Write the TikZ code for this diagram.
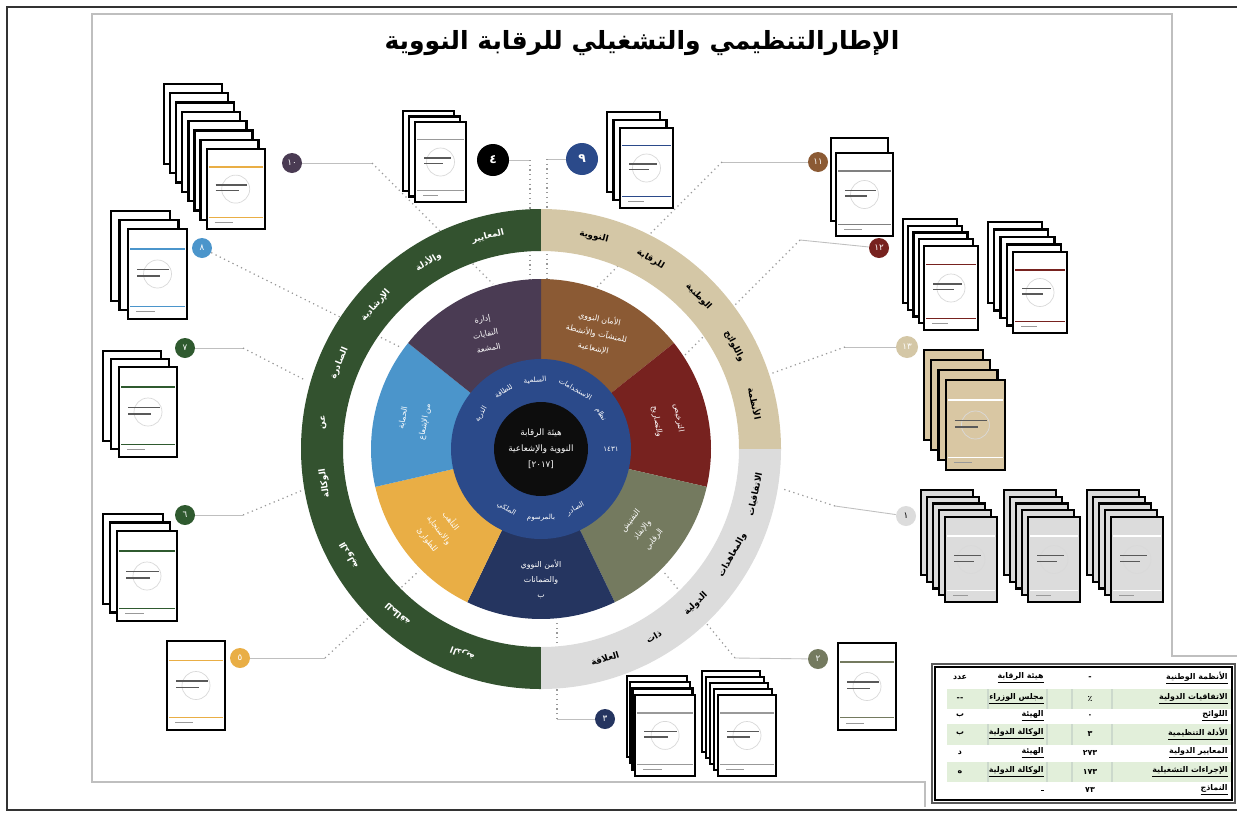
\documentclass[tikz,border=0pt]{standalone}
\usepackage{fontspec}
\usepackage{graphicx}
\usepackage{xcolor}
\usepackage{tikz}
\usetikzlibrary{calc}
\TeXXeTstate=1
\newfontfamily\arab[Script=Arabic]{DejaVu Sans}
\newcommand{\artxt}[1]{\beginR #1\endR}

\definecolor{segpurple}{HTML}{4A3B53}
\definecolor{segbrown}{HTML}{8B5A34}
\definecolor{segred}{HTML}{77221F}
\definecolor{segolive}{HTML}{747A5F}
\definecolor{segnavy}{HTML}{253560}
\definecolor{segyellow}{HTML}{E9AE45}
\definecolor{segblue}{HTML}{4B95CB}
\definecolor{innerblue}{HTML}{2B4A8A}
\definecolor{ringgreen}{HTML}{33522F}
\definecolor{ringtan}{HTML}{D4C7A6}
\definecolor{ringgray}{HTML}{DCDCDC}
\definecolor{badgegreen}{HTML}{2F5A2F}
\definecolor{doctan}{HTML}{D9C7A3}
\definecolor{tablegreen}{HTML}{E2EFDA}

\tikzset{
  docbox/.style={draw=black,line width=1.3pt},
  badge/.style={circle,inner sep=0pt,minimum size=0.4cm,fill=#1,text=white,
    font=\arab\fontsize{5}{5}\selectfont},
  bigbadge/.style={badge=#1,minimum size=0.64cm,font=\arab\bfseries\fontsize{7}{7}\selectfont},
  link/.style={draw=black!25,line width=0.5pt},
  dotlink/.style={draw=black!40,line width=0.7pt,dotted},
  segtxt/.style={text=white,align=center,inner sep=0pt,font=\arab\fontsize{4.5}{8.5}\selectfont},
  ringtxt/.style={text=black,inner sep=0pt,font=\arab\bfseries\fontsize{5}{5}\selectfont},
  bluetxt/.style={text=white,inner sep=0pt,font=\arab\fontsize{4}{5}\selectfont},
  tabtxt/.style={inner sep=0pt,font=\arab\bfseries\fontsize{4.5}{5}\selectfont},
  tabline/.style={draw=green!25!black!20,line width=0.6pt}
}

% back corner x, y; count; step x, y; width, height; fill; accent
\newcommand{\docstack}[9]{%
  \foreach \k in {1,...,#3}{
    \filldraw[docbox,fill=#8] ({#1+(\k-1)*#4},{#2+(\k-1)*#5}) rectangle ++(#6,#7);
  }
  \begin{scope}[shift={({#1+(#3-1)*#4},{#2+(#3-1)*#5})}]
    \draw[#9,line width=1pt] (2,{0.22*#7}) -- ({#6-2},{0.22*#7});
    \draw[#9,line width=0.6pt] (2,{0.86*#7}) -- ({#6-2},{0.86*#7});
    \draw[black!15] ({0.5*#6},{0.5*#7}) circle[radius=14];
    \draw[black!65,line width=0.8pt] (9,{0.45*#7}) -- ({0.7*#6},{0.45*#7});
    \draw[black!65,line width=0.8pt] (9,{0.52*#7}) -- ({0.55*#6},{0.52*#7});
    \draw[black!40,line width=0.5pt] (8,{0.92*#7}) -- ({0.45*#6},{0.92*#7});
  \end{scope}}

% radius, turn, style, angle/word pairs
\newcommand{\arcwords}[4]{%
  \foreach \ang/\w in {#4}{
    \pgfmathsetmacro\rot{-1*\ang+#2}
    \node[#3,rotate=\rot] at ([shift={(\ang:#1)}]c) {\w};
  }}

\begin{document}
\begin{tikzpicture}[x=0.02cm,y=-0.02cm]
  \useasboundingbox (0,0) rectangle (1237,812);
  \coordinate (c) at (541,449);

  % frames
  \draw[line width=1.6pt,black!80] (1240,7) -- (7,7) -- (7,810) -- (1240,810);
  \draw[line width=1pt,black!25] (925,807) -- (925,782) -- (92,782) -- (92,14)
    -- (1172,14) -- (1172,656) -- (1240,656);

  \node (title) at (642,43) {\resizebox{10.3cm}{!}{\arab\bfseries\beginR الإطارالتنظيمي والتشغيلي للرقابة النووية\endR}};

  % badges
  \node[badge=segpurple] (bPurple) at (292,163) {١٠};
  \node[badge=segblue] (bBlue) at (202,248) {٨};
  \node[badge=badgegreen] (bGreenA) at (185,348) {٧};
  \node[badge=badgegreen] (bGreenB) at (185,515) {٦};
  \node[badge=segyellow] (bYellow) at (240,658) {٥};
  \node[bigbadge=black] (bBlack) at (493,160) {٤};
  \node[bigbadge=innerblue] (bInner) at (582,159) {٩};
  \node[badge=segbrown] (bBrown) at (818,162) {١١};
  \node[badge=segred] (bRed) at (879,248) {١٢};
  \node[badge=ringtan,minimum size=0.44cm] (bTan) at (907,347) {١٣};
  \node[badge=ringgray,text=black] (bGray) at (906,516) {١};
  \node[badge=segolive] (bOlive) at (818,659) {٢};
  \node[badge=segnavy] (bNavy) at (605,719) {٣};

  % connectors
  \coordinate (ePurple) at (372,163);
  \coordinate (eGreenA) at (243,348);
  \coordinate (eGreenB) at (243,515);
  \coordinate (eYellow) at (325,658);
  \coordinate (eBlack) at (530,160);
  \coordinate (eInner) at (547,159);
  \coordinate (eBrown) at (722,162);
  \coordinate (eRed) at (800,240);
  \coordinate (eTan) at (845,347);
  \coordinate (eGray) at (835,506);
  \coordinate (eOlive) at (735,658);
  \coordinate (eNavy) at (557,719);
  \draw[link] (bPurple) -- (ePurple);
  \draw[dotlink] (ePurple) -- (493,284);
  \draw[dotlink] (bBlue) -- (402,348);
  \draw[link] (bGreenA) -- (eGreenA);
  \draw[dotlink] (eGreenA) -- (305,380);
  \draw[link] (bGreenB) -- (eGreenB);
  \draw[dotlink] (eGreenB) -- (303,490);
  \draw[link] (bYellow) -- (eYellow);
  \draw[dotlink] (eYellow) -- (419,571);
  \draw[link] (bBlack) -- (eBlack);
  \draw[dotlink] (eBlack) -- (530,282);
  \draw[link] (bInner) -- (eInner);
  \draw[dotlink] (eInner) -- (547,282);
  \draw[link] (bBrown) -- (eBrown);
  \draw[dotlink] (eBrown) -- (597,287);
  \draw[link] (bRed) -- (eRed);
  \draw[dotlink] (eRed) -- (685,355);
  \draw[link] (bTan) -- (eTan);
  \draw[dotlink] (eTan) -- (770,374);
  \draw[link] (bGray) -- (eGray);
  \draw[dotlink] (eGray) -- (783,489);
  \draw[link] (bOlive) -- (eOlive);
  \draw[dotlink] (eOlive) -- (663,571);
  \draw[link] (bNavy) -- (eNavy);
  \draw[dotlink] (eNavy) -- (557,620);

  % outer ring
  \fill[ringgreen] ([shift={(90:240)}]c) arc[start angle=90,end angle=270,radius=240]
    -- ([shift={(270:198)}]c) arc[start angle=270,end angle=90,radius=198] -- cycle;
  \fill[ringtan] ([shift={(-90:240)}]c) arc[start angle=-90,end angle=0,radius=240]
    -- ([shift={(0:198)}]c) arc[start angle=0,end angle=-90,radius=198] -- cycle;
  \fill[ringgray] ([shift={(0:240)}]c) arc[start angle=0,end angle=90,radius=240]
    -- ([shift={(90:198)}]c) arc[start angle=90,end angle=0,radius=198] -- cycle;
  \arcwords{219}{-90}{ringtxt}{
    -12/\beginR الأنظمة\endR,
    -28/\beginR واللوائح\endR,
    -44/\beginR الوطنية\endR,
    -60/\beginR للرقابة\endR,
    -76/\beginR النووية\endR}
  \arcwords{219}{90}{ringtxt}{
    12/\beginR الاتفاقيات\endR,
    29/\beginR والمعاهدات\endR,
    45/\beginR الدولية\endR,
    59/\beginR ذات\endR,
    73/\beginR العلاقة\endR}
  \arcwords{219}{-90}{ringtxt,text=white}{
    256/\beginR المعايير\endR,
    239/\beginR والأدلة\endR,
    221/\beginR الإرشادية\endR,
    203/\beginR الصادرة\endR,
    187/\beginR عن\endR,
    171/\beginR الوكالة\endR,
    151/\beginR الدولية\endR,
    131/\beginR للطاقة\endR,
    111/\beginR الذرية\endR}

  % wheel
  \foreach \col [count=\i from 0] in {segbrown,segred,segolive,segnavy,segyellow,segblue,segpurple}{
    \pgfmathsetmacro\aa{-90+\i*360/7}
    \pgfmathsetmacro\bb{-90+(\i+1)*360/7}
    \fill[\col] (c) -- ([shift={(\aa:170)}]c) arc[start angle=\aa,end angle=\bb,radius=170] -- cycle;
  }
  \fill[innerblue] (c) circle[radius=90];
  \node[circle,fill=black!95,minimum size=1.88cm,inner sep=0pt,align=center,text=white,
    font=\arab\fontsize{5}{9}\selectfont] (core) at (c)
    {\beginR هيئة الرقابة\endR\\\beginR النووية والإشعاعية\endR\\{[٢٠١٧]}};
  \arcwords{69}{-90}{bluetxt}{
    -30/\beginR نظام\endR,
    -60/\beginR الاستخدامات\endR,
    -95/\beginR السلمية\endR,
    -123/\beginR للطاقة\endR,
    -150/\beginR الذرية\endR}
  \arcwords{69}{90}{bluetxt}{
    60/\beginR الصادر\endR,
    90/\beginR بالمرسوم\endR,
    120/\beginR الملكي\endR}
  \node[bluetxt] at ([shift={(0:70)}]c) {١٤٣١};

  \node[segtxt,rotate=-12] at ([shift={(-64.3:128)}]c) {\beginR الأمان النووي\endR\\\beginR للمنشآت والأنشطة\endR\\\beginR الإشعاعية\endR};
  \node[segtxt,rotate=-80] at ([shift={(-12.9:130)}]c) {\beginR الترخيص\endR\\[4pt]\beginR والتصاريح\endR};
  \node[segtxt,rotate=51.4] at ([shift={(38.6:130)}]c) {\beginR التفتيش\endR\\\beginR والإنفاذ\endR\\\beginR الرقابي\endR};
  \node[segtxt] at ([shift={(90:130)}]c) {\beginR الأمن النووي\endR\\\beginR والضمانات\endR\\\beginR ب\endR};
  \node[segtxt,rotate=-51.4] at ([shift={(141.4:130)}]c) {\beginR التأهب\endR\\\beginR والاستجابة\endR\\\beginR للطوارئ\endR};
  \node[segtxt,rotate=80] at ([shift={(192.9:130)}]c) {\beginR الحماية\endR\\[4pt]\beginR من الإشعاع\endR};
  \node[segtxt,rotate=12] at ([shift={(244.3:128)}]c) {\beginR إدارة\endR\\\beginR النفايات\endR\\\beginR المشعة\endR};

  % document stacks
  \docstack{164}{84}{8}{6.1}{9.3}{58}{80}{white}{segyellow}
  \docstack{111}{211}{3}{8.5}{9}{59}{90}{white}{segblue}
  \docstack{403}{111}{3}{6}{5.5}{51}{80}{white}{black!40}
  \docstack{607}{112}{3}{6.5}{8}{53}{80}{white}{innerblue}
  \docstack{831}{138}{2}{5}{15}{57}{83}{white}{black!50}
  \docstack{903}{219}{5}{5.25}{6.75}{54}{84}{white}{segred}
  \docstack{988}{222}{5}{6.25}{7.5}{54}{81}{white}{segred}
  \docstack{924}{350}{4}{7.3}{10}{59}{90}{doctan}{white}
  \docstack{921}{490}{5}{6}{6.75}{52}{85}{ringgray}{white}
  \docstack{1004}{490}{5}{6}{6.75}{52}{85}{ringgray}{white}
  \docstack{1087}{490}{5}{6}{6.75}{52}{85}{ringgray}{white}
  \docstack{838}{643}{1}{0}{0}{58}{87}{white}{segolive}
  \docstack{627}{676}{4}{2.7}{6.3}{60}{81}{white}{black!40}
  \docstack{702}{671}{5}{4}{6}{58}{81}{white}{black!40}
  \docstack{103}{351}{3}{8}{8}{58}{90}{white}{badgegreen}
  \docstack{103}{514}{3}{7}{8.5}{60}{90}{white}{badgegreen}
  \docstack{167}{641}{1}{0}{0}{58}{89}{white}{segyellow}

  % table
  \draw[line width=1.2pt,black!65] (932,664) rectangle (1235,803);
  \draw[line width=0.7pt] (935,667) rectangle (1232,800);
  \foreach \ya/\yb in {689/709,724/745,762/782}{
    \fill[tablegreen] (947,\ya) rectangle (1231,\yb);
    \foreach \xx in {988,1047,1072,1112} \draw[tabline] (\xx,\ya) -- (\xx,\yb);
  }
  \foreach \yy/\ca/\cb/\cc/\cd in {
      678/\beginR الأنظمة الوطنية\endR/-/\beginR هيئة الرقابة\endR/\beginR عدد\endR,
      699/\beginR الاتفاقيات الدولية\endR/٪/\beginR مجلس الوزراء\endR/--,
      716/\beginR اللوائح\endR/٠/\beginR الهيئة\endR/\beginR ب\endR,
      734/\beginR الأدلة التنظيمية\endR/٣/\beginR الوكالة الدولية\endR/\beginR ب\endR,
      753/\beginR المعايير الدولية\endR/٢٧٣/\beginR الهيئة\endR/\beginR د\endR,
      772/\beginR الإجراءات التشغيلية\endR/١٧٣/\beginR الوكالة الدولية\endR/\beginR ه\endR,
      790/\beginR النماذج\endR/٧٣/ / }{
    \node[tabtxt,anchor=east] at (1228,\yy) {\underline{\ca}};
    \node[tabtxt] at (1090,\yy) {\cb};
    \node[tabtxt,anchor=east] at (1044,\yy) {\underline{\cc}};
    \node[tabtxt] at (960,\yy) {\cd};
  }
\end{tikzpicture}
\end{document}
